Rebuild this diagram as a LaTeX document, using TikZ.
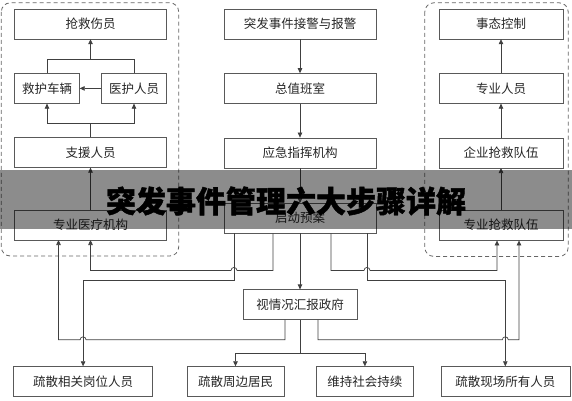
\documentclass[tikz,border=0pt]{standalone}
\usepackage{fontspec}
\newfontfamily\cjk{Noto Sans CJK SC}
\newfontfamily\cjktitle[BoldFeatures={FakeBold=1.5}]{Noto Sans CJK SC}
\usetikzlibrary{positioning, calc, arrows.meta}
\tikzstyle{step-base} = [draw=black!65, text=black!85, minimum height=30pt, text centered,
 inner sep=2pt, font=\cjk\fontsize{12.5}{15}\selectfont, node distance=34pt]
\tikzstyle{step-wide} = [step-base, minimum width=152pt]
\tikzstyle{step-side} = [step-base, minimum width=124pt]
\tikzstyle{step-small} = [step-base, minimum width=65pt]
\tikzstyle{group} = [draw=black!60, dash pattern=on 4pt off 3pt, rounded corners=9pt, line width=0.8pt]
\tikzstyle{arrow} = [->, >={Triangle[length=5pt, width=4.5pt]}, draw=black!75, line width=0.7pt]
\tikzstyle{line} = [draw=black!75, line width=0.7pt]
\newcommand{\hopsize}{3pt}

\begin{document}
\begin{tikzpicture}[x=1pt, y=1pt]
\useasboundingbox (0,0) rectangle (572,-400);

% Center column
\node (ALARM) [step-wide] at (300,-24) {突发事件接警与报警};
\node (DUTY) [step-wide, below=of ALARM] {总值班室};
\node (COMMAND) [step-wide, below=of DUTY] {应急指挥机构};
\node (PLAN) [step-wide, below=35pt of COMMAND] {启动预案};
\node (REPORT) [step-base, minimum width=114pt, below=56pt of PLAN] {视情况汇报政府};

% Left column
\node (RESCUE) [step-wide] at (90.5,-24) {抢救伤员};
\node (VEHICLE) [step-small, below=34pt of RESCUE.south west, anchor=north west] {救护车辆};
\node (MEDSTAFF) [step-small, below=34pt of RESCUE.south east, anchor=north east] {医护人员};
\node (SUPPORT) [step-wide, below=98pt of RESCUE] {支援人员};
\node (MEDORG) [step-wide, below=42pt of SUPPORT] {专业医疗机构};

% Right column
\node (CONTROL) [step-side] at (501,-24) {事态控制};
\node (PROSTAFF) [step-side, below=of CONTROL] {专业人员};
\node (ENTTEAM) [step-side, below=of PROSTAFF] {企业抢救队伍};
\node (SPECTEAM) [step-side, below=42pt of ENTTEAM] {专业抢救队伍};

% Bottom row
\node (EVAC_RES) [step-base, minimum width=97pt] at (235.5,-381.5) {疏散周边居民};
\node (EVAC_POST) [step-base, minimum width=139pt, left=34pt of EVAC_RES] {疏散相关岗位人员};
\node (ORDER) [step-base, minimum width=97pt, right=32pt of EVAC_RES] {维持社会持续};
\node (EVAC_ALL) [step-base, minimum width=129pt, right=27pt of ORDER] {疏散现场所有人员};

% Groups
\draw[group] ($(RESCUE.north west)+(-13,6)$) rectangle ($(MEDORG.south east)+(12,-16)$);
\draw[group] ($(CONTROL.north west)+(-14,6)$) rectangle ($(SPECTEAM.south east)+(5,-16)$);

% Center arrows
\draw[arrow] (ALARM) -- (DUTY);
\draw[arrow] (DUTY) -- (COMMAND);
\draw[arrow] (COMMAND) -- (PLAN);
\draw[arrow] (PLAN) -- (REPORT);

% Left arrows
\draw[arrow] (MEDORG) -- (SUPPORT);
\draw[line] (SUPPORT.north) -- ++(0,14) coordinate (SUP_SPLIT);
\draw[arrow] (SUP_SPLIT) -| (VEHICLE.south);
\draw[arrow] (SUP_SPLIT) -| (MEDSTAFF.south);
\draw[arrow] (MEDSTAFF) -- (VEHICLE);
\coordinate (JOIN) at ($(RESCUE.south)+(0,-20)$);
\draw[line] (VEHICLE.north) |- (JOIN) -| (MEDSTAFF.north);
\draw[arrow] (JOIN) -- (RESCUE.south);

% Right arrows
\draw[arrow] (SPECTEAM) -- (ENTTEAM);
\draw[arrow] (ENTTEAM) -- (PROSTAFF);
\draw[arrow] (PROSTAFF) -- (CONTROL);

% Levels and crossings
\coordinate (LVL_A) at ($(PLAN.south)+(0,-37)$);
\coordinate (LVL_B) at ($(PLAN.south)+(0,-47)$);
\coordinate (LVL_C) at ($(REPORT.south)+(0,-20)$);
\coordinate (HOP_PLAN_L) at ($(PLAN.south)+(-66,-37)$);
\coordinate (HOP_PLAN_R) at ($(PLAN.south)+(67,-37)$);
\coordinate (HOP_REP_L) at (EVAC_POST.north |- LVL_C);
\coordinate (HOP_REP_R) at (EVAC_ALL.north |- LVL_C);

% Arrows from plan
\draw[arrow] ([xshift=-27pt]PLAN.south) -- ($(PLAN.south)+(-27,-37)$)
    -- ([xshift=\hopsize]HOP_PLAN_L) arc[start angle=0, end angle=180, radius=\hopsize]
    -| (MEDORG.south);
\draw[arrow] ([xshift=-66pt]PLAN.south) -- ($(PLAN.south)+(-66,-47)$) -| (EVAC_POST.north);
\draw[arrow] ([xshift=31pt]PLAN.south) -- ($(PLAN.south)+(31,-37)$)
    -- ([xshift=-\hopsize]HOP_PLAN_R) arc[start angle=180, end angle=0, radius=\hopsize]
    -| ([xshift=-4pt]SPECTEAM.south);
\draw[arrow] ([xshift=67pt]PLAN.south) -- ($(PLAN.south)+(67,-47)$) -| (EVAC_ALL.north);

% Arrows from report
\draw[arrow] ([xshift=-15pt]REPORT.south) -- ($(REPORT.south)+(-15,-20)$)
    -- ([xshift=\hopsize]HOP_REP_L) arc[start angle=0, end angle=180, radius=\hopsize]
    -| ([xshift=-32pt]MEDORG.south);
\draw[line] (REPORT.south) -- ++(0,-34) coordinate (REP_SPLIT);
\draw[arrow] (REP_SPLIT) -| (EVAC_RES.north);
\draw[arrow] (REP_SPLIT) -| (ORDER.north);
\draw[arrow] ([xshift=18pt]REPORT.south) -- ($(REPORT.south)+(18,-20)$)
    -- ([xshift=-\hopsize]HOP_REP_R) arc[start angle=180, end angle=0, radius=\hopsize]
    -| ([xshift=18pt]SPECTEAM.south);

% Title banner
\fill[black, opacity=0.45] (0,-170) rectangle (572,-229);
\node (TITLE) [font=\cjktitle\bfseries\fontsize{30}{36}\selectfont, text=black] at (286,-201) {突发事件管理六大步骤详解};

\end{tikzpicture}
\end{document}
